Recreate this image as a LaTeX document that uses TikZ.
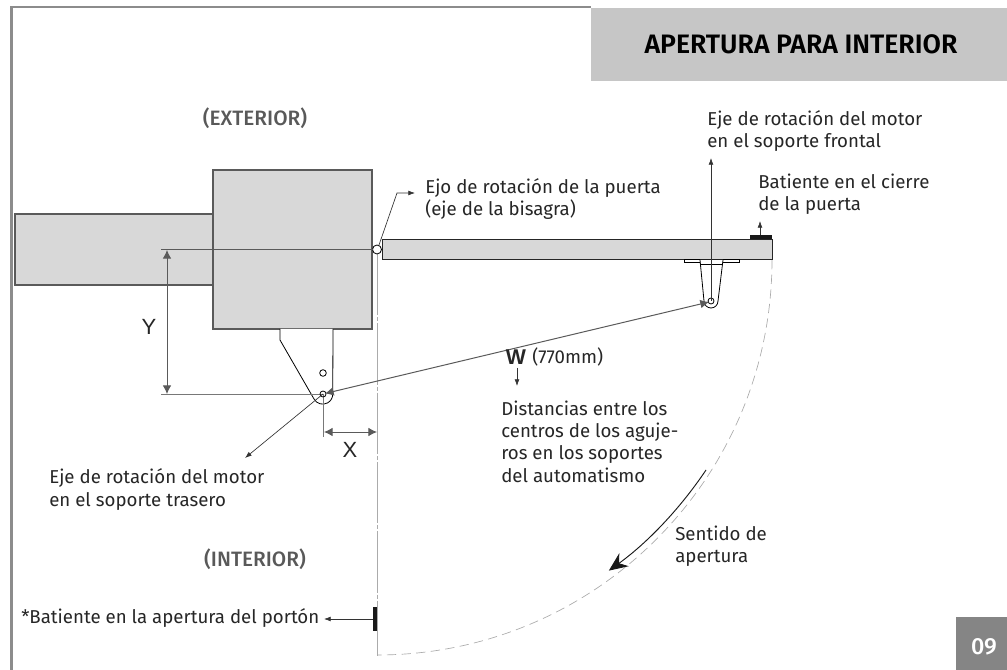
\documentclass[tikz,border=0pt]{standalone}
\usepackage{fontspec}
\setmainfont{Fira Sans}
\newfontfamily\armfont{Liberation Sans}
\newfontfamily\medfont{Fira Sans Medium}
\newfontfamily\semifont{Fira Sans SemiBold}
\usetikzlibrary{arrows.meta}
\definecolor{panelgray}{HTML}{D8D8D8}
\definecolor{headgray}{HTML}{C6C6C6}
\definecolor{framegray}{HTML}{8C8C8C}
\definecolor{linegray}{HTML}{5A5A5A}
\definecolor{axisgray}{HTML}{ABABAB}
\definecolor{tabgray}{HTML}{858585}
\tikzset{
    label/.style={inner sep=0pt,anchor=west,align=left,font=\fontsize{14}{16.7}\selectfont,text=black!85},
    dim/.style={font=\armfont\fontsize{16.5}{18}\selectfont,inner sep=0pt,text=black!85},
    zone/.style={inner sep=0pt,font=\medfont\fontsize{15.6}{18}\selectfont,text=black!65},
    leader/.style={draw=black!80,line width=0.5pt,-{Latex[length=5pt,width=3.6pt]}},
    measure/.style={draw=linegray,line width=0.75pt,{Latex[length=6.5pt,width=6.5pt]}-{Latex[length=6.5pt,width=6.5pt]}},
    part/.style={draw=linegray,fill=panelgray,line width=0.8pt},
    bracket/.style={draw=black,line width=0.6pt,fill=white},
}
\begin{document}
\begin{tikzpicture}[x=0.75pt,y=-0.75pt]
    \useasboundingbox (0,0) rectangle (1007,670);
    % Frame
    \draw[framegray,line width=2.2pt] (11.5,670) -- (11.5,7);
    \draw[framegray,line width=1.5pt] (10,7.5) -- (591,7.5);
    \node[fill=headgray,minimum width=312.75pt,minimum height=55pt,inner sep=0pt,anchor=north west] (head) at (591,7.5) {};
    \node[inner sep=0pt,font=\semifont\fontsize{20}{24}\selectfont] (title) at (801,44) {APERTURA PARA INTERIOR};
    \node[fill=tabgray,minimum width=38.25pt,minimum height=39.75pt,inner sep=0pt,anchor=north west] (tab) at (956,617) {};
    \node[inner sep=0pt,text=white,font=\medfont\fontsize{17.5}{20}\selectfont] (page) at (984,647) {09};

    % Pillar and wall
    \draw[part] (213,214) -- (15,214) -- (15,285) -- (213,285);
    \draw[part] (213,170) rectangle (372,329);

    % Door
    \draw[draw=black!85,fill=panelgray,line width=0.7pt] (382,239) rectangle (772,259);
    \fill[black!90] (750,235) rectangle (772,239);
    \fill[black!90] (373,607) rectangle (378,631);

    % Axis and door swing
    \coordinate (hinge) at (377,249.5);
    \coordinate (rear) at (323,394);
    \coordinate (front) at (711,301);
    \draw[axisgray,line width=0.6pt,dash pattern=on 46pt off 1.5pt on 3pt off 1.5pt] (377.5,254) -- (377.5,656);
    \draw[axisgray,line width=0.5pt,dash pattern=on 7pt off 4pt] (772,260) arc (0:90:395);

    % Rear bracket
    \draw[bracket] (280,329) -- (280,340) -- (314,399) arc (151:0:10) -- (333,329);
    \draw[black,line width=0.6pt] (323,373) circle (3.3);

    % Front bracket
    \draw[black,line width=0.5pt] (684,259) rectangle (739,262);
    \draw[bracket] (700,260) -- (704,301) arc (180:0:7) -- (723,260);
    \draw[black,line width=0.5pt] (700,264) -- (723,264);
    \draw[black,line width=0.6pt] (front) circle (3);

    % Hinge
    \draw[black,line width=0.6pt] (hinge) circle (4.5);

    % Measures
    \draw[linegray,line width=0.6pt] (161,249.5) -- (373,249.5);
    \draw[axisgray!70!black,line width=0.6pt] (161,394) -- (rear);
    \draw[axisgray!70!black,line width=0.6pt] (rear) -- (323,437);
    \draw[black,line width=0.6pt] (rear) circle (3);
    \coordinate (ytop) at (167,250);
    \coordinate (ybot) at (167,394);
    \coordinate (xleft) at (324,432);
    \coordinate (xright) at (377,432);
    \coordinate (wrear) at (325,393.5);
    \coordinate (wfront) at (709,302);
    \draw[measure] (ytop) -- (ybot);
    \draw[measure] (xleft) -- (xright);
    \draw[measure] (wrear) -- (wfront);
    \node[dim] (ylab) at (149,327) {Y};
    \node[dim] (xlab) at (350,450) {X};

    % Leaders
    \coordinate (ejotip) at (415,193);
    \coordinate (ejoknee) at (397,193);
    \draw[leader] (hinge) ++(2,-4.5) -- (ejoknee) -- (ejotip);
    \coordinate (fronttip) at (711,158);
    \draw[leader] (front) -- (fronttip);
    \coordinate (stoptip) at (760,221);
    \coordinate (stopbase) at (760,235);
    \draw[leader] (stopbase) -- (stoptip);
    \coordinate (reartip) at (245,458);
    \draw[leader] (rear) -- (reartip);
    \coordinate (wtop) at (517,368);
    \coordinate (wbot) at (517,386);
    \draw[leader] (wtop) -- (wbot);
    \coordinate (opentop) at (373,619);
    \coordinate (opentip) at (324,619);
    \draw[leader] (opentop) -- (opentip);
    \draw[draw=black!90,line width=0.7pt,-{Stealth[length=14pt,width=12pt]}] (706,470) arc (33.8:54.2:395);

    % Labels
    \node[label] (ejolab) at (425,199) {Ejo de rotación de la puerta\\(eje de la bisagra)};
    \node[label] (frontlab) at (707,131) {Eje de rotación del motor\\en el soporte frontal};
    \node[label] (stoplab) at (758,194) {Batiente en el cierre\\de la puerta};
    \node[label] (rearlab) at (49,489.5) {Eje de rotación del motor\\en el soporte trasero};
    \node[label] (wtext) at (501,441.5) {Distancias entre los\\centros de los aguje-\\ros en los soportes\\del automatismo};
    \node[label] (opentext) at (675,546) {Sentido de\\apertura};
    \node[label] (stoptext) at (21,618) {*Batiente en la apertura del portón};
    \node[dim,font=\armfont\bfseries\fontsize{16}{18}\selectfont] (wlab) at (516,357) {W};
    \node[label] (wmm) at (532,357) {(770mm)};
    \node[zone] (extlab) at (255,118) {(EXTERIOR)};
    \node[zone] (intlab) at (255,559) {(INTERIOR)};
\end{tikzpicture}
\end{document}
